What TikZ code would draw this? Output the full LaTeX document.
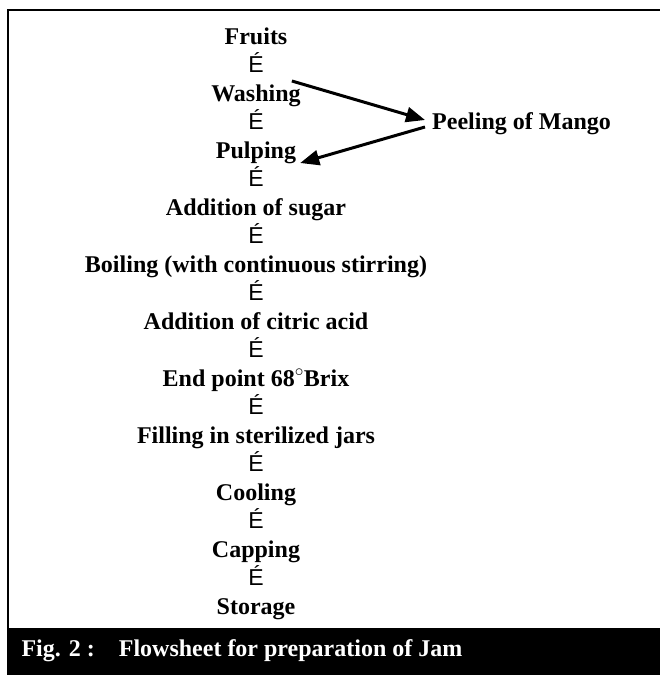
\documentclass[tikz,border=0pt]{standalone}
\usepackage{fontspec}
\setmainfont{Liberation Serif}
\newfontfamily\arrowfont{Liberation Sans}
\usetikzlibrary{arrows.meta,positioning}

\begin{document}
\begin{tikzpicture}[>={Triangle[length=19pt,width=15pt]}, x=1pt, y=1pt, node distance=28.5pt,
  stage/.style={font=\fontsize{24}{28}\selectfont\bfseries, text height=17pt, text depth=5pt, inner sep=3pt},
  down/.style={font=\fontsize{23}{27}\selectfont\arrowfont, text height=17pt, text depth=5pt, inner sep=3pt}]
\useasboundingbox (0,0) rectangle (660,-675);
% frame and caption bar
\draw[line width=2.8pt] (8,-628) -- (8,-10) -- (680,-10);
\fill (6.6,-628) rectangle (680,-675);
\node[anchor=west, text=white, font=\fontsize{24}{28}\selectfont\bfseries] (cap) at (18,-651) {Fig. 2 :\quad Flowsheet for preparation of Jam};

% flowsheet column
\node[stage] (fruits) at (256,-38) {Fruits};
\node[down] (d1) [below of=fruits] {É};
\node[stage] (wash) [below of=d1] {Washing};
\node[down] (d2) [below of=wash] {É};
\node[stage] (pulp) [below of=d2] {Pulping};
\node[down] (d3) [below of=pulp] {É};
\node[stage] (sugar) [below of=d3] {Addition of sugar};
\node[down] (d4) [below of=sugar] {É};
\node[stage] (boil) [below of=d4] {Boiling (with continuous stirring)};
\node[down] (d5) [below of=boil] {É};
\node[stage] (acid) [below of=d5] {Addition of citric acid};
\node[down] (d6) [below of=acid] {É};
\node[stage] (brix) [below of=d6] {End point 68$^\circ$Brix};
\node[down] (d7) [below of=brix] {É};
\node[stage] (fill) [below of=d7] {Filling in sterilized jars};
\node[down] (d8) [below of=fill] {É};
\node[stage] (cool) [below of=d8] {Cooling};
\node[down] (d9) [below of=cool] {É};
\node[stage] (cap2) [below of=d9] {Capping};
\node[down] (d10) [below of=cap2] {É};
\node[stage] (store) [below of=d10] {Storage};

% side step
\node[stage, anchor=west] (peel) at (429,-123) {Peeling of Mango};
\draw[->, line width=3pt] ([shift={(-12pt,14pt)}]wash.east) -- ([shift={(-4pt,3pt)}]peel.west);
\draw[->, line width=3pt] ([shift={(-4pt,-4pt)}]peel.west) -- ([shift={(1pt,-11pt)}]pulp.east);
\end{tikzpicture}
\end{document}
